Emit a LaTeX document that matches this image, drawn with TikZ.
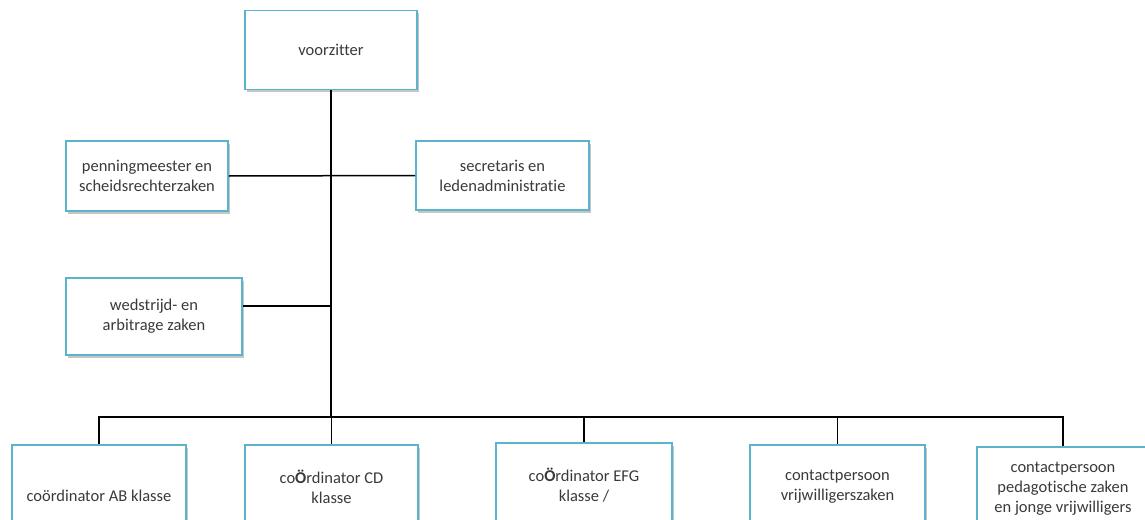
\documentclass[tikz,border=0pt]{standalone}
\usepackage{fontspec}
\setmainfont{Carlito}[Ligatures=NoCommon]
\usetikzlibrary{calc, positioning, shadows}
\definecolor{boxblue}{HTML}{5BB3CC}
\definecolor{textgray}{HTML}{3A3A3A}

\begin{document}
\begin{tikzpicture}[x=1pt, y=-1pt,
  post/.style={draw=boxblue, line width=1.6pt, fill=white, align=center,
    text=textgray, font=\fontsize{16.5}{20}\selectfont, inner sep=0pt,
    drop shadow={opacity=0.45, shadow xshift=1.5pt, shadow yshift=-2.5pt}},
  link/.style={line width=1.5pt, black}]
  \useasboundingbox (0,0) rectangle (1145,519);

  % Bestuur
  \node[post, minimum width=172, minimum height=79] (voorz) at (331,50) {voorzitter};
  \node[post, minimum width=162, minimum height=70] (penn) at (147,176)
    {penningmeester en\\scheidsrechterzaken};
  \node[post, minimum width=173, minimum height=69] (secr) at (502.5,175.5)
    {secretaris en\\ledenadministratie};
  \node[post, minimum width=176, minimum height=77] (wedst) at (154,316.5)
    {wedstrijd- en\\arbitrage zaken};

  % Coordinatoren en contactpersonen
  \node[post, minimum width=174, minimum height=84] (coAB) at (99,487) {};
  \node[textgray, font=\fontsize{16.5}{20}\selectfont] (coABt) at (99,496) {coördinator AB klasse};
  \node[post, minimum width=173, minimum height=84] (coCD) at (331.5,487)
    {co\textbf{Ö}rdinator CD\\klasse};
  \node[post, minimum width=176, minimum height=84] (coEFG) at (584,485)
    {co\textbf{Ö}rdinator EFG\\klasse /};
  \node[post, minimum width=175, minimum height=84] (vrijw) at (837.5,487)
    {contactpersoon\\vrijwilligerszaken};
  \node[post, minimum width=172, minimum height=84] (pedag) at (1063,489)
    {contactpersoon\\pedagotische zaken\\en jonge vrijwilligers};

  % Lijnen
  \coordinate (bus) at (331,417);
  \draw[link] (voorz.south) -- (bus);
  \draw[link] (penn.east) -- (secr.west);
  \draw[link] ([yshift=10.5pt]wedst.east) -- ([yshift=10.5pt]wedst.east -| voorz.south);
  \draw[link] (coAB.north) -- (coAB.north |- bus) -- (pedag.north |- bus) -- (pedag.north);
  \foreach \n in {coCD, coEFG, vrijw}
    \draw[link] (\n.north) -- (\n.north |- bus);
\end{tikzpicture}
\end{document}
